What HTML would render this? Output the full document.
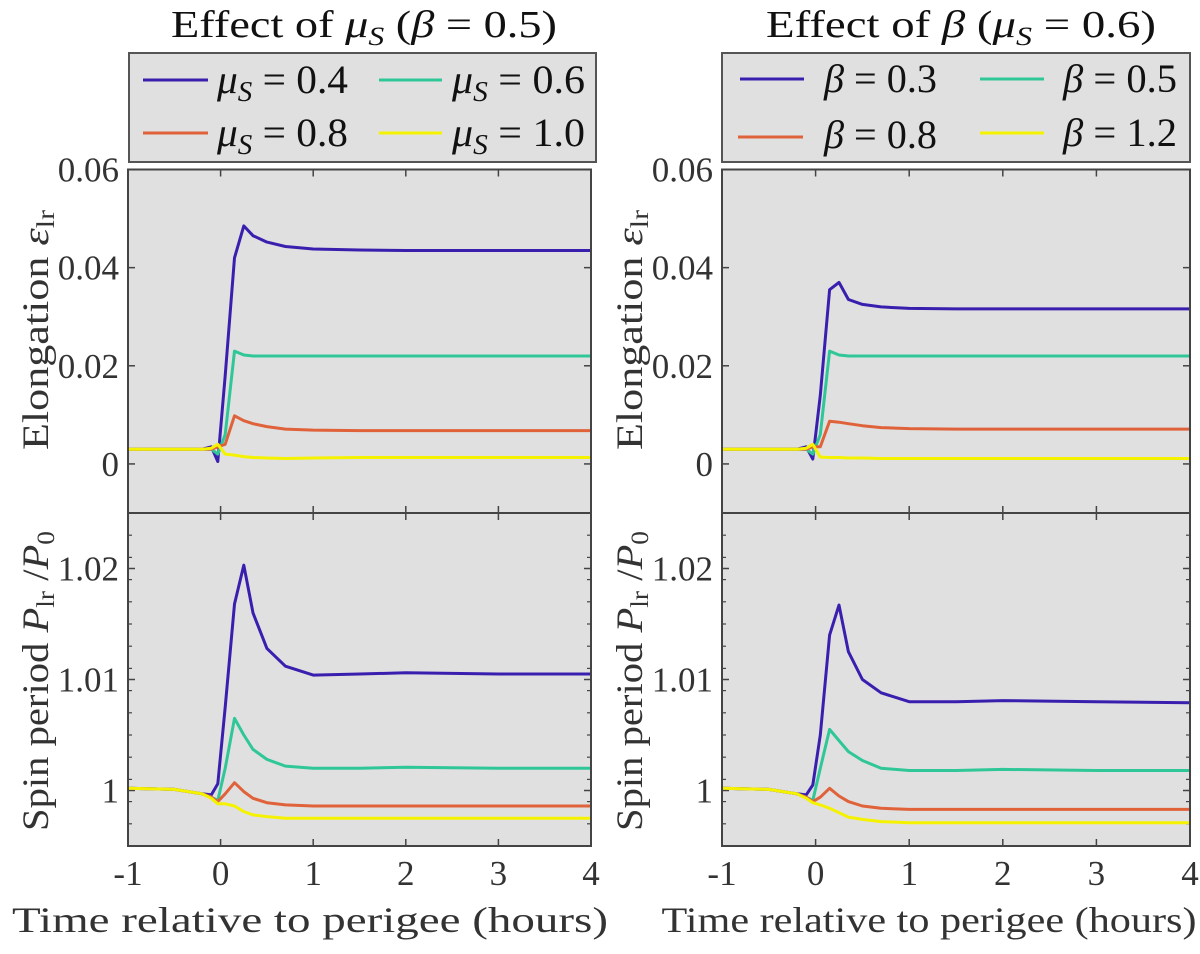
<!DOCTYPE html>
<html><head><meta charset="utf-8"><style>
html,body{margin:0;padding:0;background:#fff;}
svg{display:block;font-family:"Liberation Serif",serif;}
svg text{font-family:"Liberation Serif",serif;}
</style></head><body>
<svg id="fig" width="1200" height="954" viewBox="0 0 1200 954" xmlns="http://www.w3.org/2000/svg"></svg>
<script>
const times = [-1,-0.5,-0.2,-0.1,-0.03,0.05,0.15,0.25,0.35,0.5,0.7,1,1.5,2,3,4];
const xTicks = [-1,0,1,2,3,4];
const xTickLabels = ["-1","0","1","2","3","4"];
const epsTicks = [0,0.02,0.04,0.06];
const epsTickLabels = ["0","0.02","0.04","0.06"];
const perTicks = [1,1.01,1.02];
const perTickLabels = ["1","1.01","1.02"];
const colors = ["#3a1faf","#2fc797","#e0623a","#f5f200"];

const epsMu04 = [0.003,0.003,0.003,0.0035,0.0005,0.018,0.042,0.0485,0.0465,0.0452,0.0443,0.0438,0.0436,0.0435,0.0435,0.0435];
const epsMu06 = [0.003,0.003,0.003,0.003,0.002,0.006,0.023,0.0222,0.022,0.022,0.022,0.022,0.022,0.022,0.022,0.022];
const epsMu08 = [0.003,0.003,0.003,0.003,0.0035,0.004,0.0098,0.0088,0.0082,0.0076,0.0071,0.0069,0.0068,0.0068,0.0068,0.0068];
const epsMu10 = [0.003,0.003,0.003,0.0032,0.004,0.002,0.0018,0.0015,0.0013,0.0012,0.0011,0.0012,0.0013,0.0013,0.0013,0.0013];

const epsB03 = [0.003,0.003,0.003,0.0035,0.001,0.014,0.0355,0.037,0.0335,0.0325,0.032,0.0317,0.0316,0.0316,0.0316,0.0316];
const epsB05 = [0.003,0.003,0.003,0.003,0.002,0.006,0.023,0.0222,0.022,0.022,0.022,0.022,0.022,0.022,0.022,0.022];
const epsB08 = [0.003,0.003,0.003,0.003,0.0035,0.0035,0.0087,0.0085,0.0082,0.0078,0.0074,0.0072,0.0071,0.0071,0.0071,0.0071];
const epsB12 = [0.003,0.003,0.003,0.0032,0.004,0.0014,0.0013,0.0013,0.0012,0.0012,0.0011,0.0011,0.0011,0.0011,0.0011,0.0011];

const perMu04 = [1.0002,1.0001,0.9997,0.9996,1.0006,1.0075,1.0168,1.0203,1.016,1.0128,1.0112,1.0104,1.0105,1.0106,1.0105,1.0105];
const perMu06 = [1.0002,1.0001,0.9997,0.9994,0.9991,1.002,1.0065,1.005,1.0037,1.0028,1.0022,1.002,1.002,1.0021,1.002,1.002];
const perMu08 = [1.0002,1.0001,0.9997,0.9994,0.999,0.9997,1.0007,0.9999,0.9993,0.9989,0.9987,0.9986,0.9986,0.9986,0.9986,0.9986];
const perMu10 = [1.0002,1.0001,0.9997,0.9993,0.9988,0.9988,0.9986,0.9981,0.9978,0.99765,0.9975,0.9975,0.9975,0.9975,0.9975,0.9975];

const perB03 = [1.0002,1.0001,0.9997,0.9996,1.0005,1.005,1.014,1.0167,1.0125,1.01,1.0088,1.008,1.008,1.0081,1.008,1.0079];
const perB05 = [1.0002,1.0001,0.9997,0.9994,0.9991,1.002,1.0055,1.0045,1.0035,1.0027,1.002,1.0018,1.0018,1.0019,1.0018,1.0018];
const perB08 = [1.0002,1.0001,0.9997,0.9994,0.999,0.9994,1.0002,0.9995,0.999,0.9986,0.9984,0.9983,0.9983,0.9983,0.9983,0.9983];
const perB12 = [1.0002,1.0001,0.9997,0.9993,0.9989,0.9987,0.9984,0.998,0.9976,0.9974,0.9972,0.9971,0.9971,0.9971,0.9971,0.9971];

const NS="http://www.w3.org/2000/svg";
const svg=document.getElementById('fig');
function mk(tag,attrs,parent){const e=document.createElementNS(NS,tag);for(const k in attrs)e.setAttribute(k,attrs[k]);(parent||svg).appendChild(e);return e;}

function panel(name,x0,x1,y0,y1,ymin,ymax,yt,ytl,minorStep,series,labelX){
  const g=mk('g',{});
  
  
  const sx=t=>x0+(t-(-1))/(4-(-1))*(x1-x0);
  const sy=v=>y1-(v-ymin)/(ymax-ymin)*(y1-y0);
  const bg=mk('rect',{x:x0,y:y0,width:x1-x0,height:y1-y0,fill:"#e0e0e0"},g);
  
  
  xTicks.forEach(t=>{const x=sx(t);
    mk('line',{x1:x,x2:x,y1:y0,y2:y0+7,stroke:"#444","stroke-width":1.5},g);
    mk('line',{x1:x,x2:x,y1:y1,y2:y1-7,stroke:"#444","stroke-width":1.5},g);});
  if(minorStep){for(let v=ymin;v<=ymax+1e-9;v+=minorStep){const y=sy(v);
    mk('line',{x1:x0,x2:x0+4,y1:y,y2:y,stroke:"#444","stroke-width":1.2},g);
    mk('line',{x1:x1,x2:x1-4,y1:y,y2:y,stroke:"#444","stroke-width":1.2},g);}}
  yt.forEach((v,i)=>{const y=sy(v);
    mk('line',{x1:x0,x2:x0+7,y1:y,y2:y,stroke:"#444","stroke-width":1.5},g);
    mk('line',{x1:x1,x2:x1-7,y1:y,y2:y,stroke:"#444","stroke-width":1.5},g);
    const tx=mk('text',{x:x0-9,y:y+12,"text-anchor":"end","font-size":35,fill:"#333"},g);
    tx.textContent=ytl[i];
    
    });
  series.forEach((s,i)=>{
    const d=s.map((v,j)=>(j?'L':'M')+sx(times[j]).toFixed(1)+','+sy(v).toFixed(1)).join(' ');
    const p=mk('path',{d:d,fill:"none",stroke:colors[i],"stroke-width":3,"stroke-linejoin":"round"},g);
    
    });
  mk('rect',{x:x0,y:y0,width:x1-x0,height:y1-y0,fill:"none",stroke:"#444","stroke-width":2},g);
  if(labelX){xTicks.forEach((t,i)=>{const tx=mk('text',{x:sx(t),y:885,"text-anchor":"middle","font-size":35,fill:"#333"},g);
    tx.textContent=xTickLabels[i];
    
    });}
}
panel('elongation-panel-mu',128,591,169.5,513,-0.01,0.06,epsTicks,epsTickLabels,0,[epsMu04,epsMu06,epsMu08,epsMu10],false);
panel('period-panel-mu',128,591,513,846,0.995,1.025,perTicks,perTickLabels,0.002,[perMu04,perMu06,perMu08,perMu10],true);
panel('elongation-panel-beta',722,1190,169.5,513,-0.01,0.06,epsTicks,epsTickLabels,0,[epsB03,epsB05,epsB08,epsB12],false);
panel('period-panel-beta',722,1190,513,846,0.995,1.025,perTicks,perTickLabels,0.002,[perB03,perB05,perB08,perB12],true);
</script>
<script>
(function(){
const NS="http://www.w3.org/2000/svg";const svg=document.getElementById('fig');
const html=`
<text x="364" y="37" text-anchor="middle" font-size="38" fill="#111" textLength="386" lengthAdjust="spacingAndGlyphs">Effect of <tspan font-style="italic">μ</tspan><tspan font-style="italic" font-size="26" dy="8">S</tspan><tspan dy="-8"> (</tspan><tspan font-style="italic">β</tspan> = 0.5)</text>
<text x="961" y="37" text-anchor="middle" font-size="38" fill="#111" textLength="390" lengthAdjust="spacingAndGlyphs">Effect of <tspan font-style="italic">β</tspan> (<tspan font-style="italic">μ</tspan><tspan font-style="italic" font-size="26" dy="8">S</tspan><tspan dy="-8"> = 0.6)</tspan></text>
<g>
<rect x="129" y="53" width="467" height="109" fill="#e0e0e0" stroke="#555" stroke-width="2"/>
<line x1="143" x2="208" y1="80" y2="80" stroke="#3a1faf" stroke-width="3"/>
<text x="217" y="93" font-size="40" fill="#111" textLength="131" lengthAdjust="spacingAndGlyphs"><tspan font-style="italic">μ</tspan><tspan font-style="italic" font-size="28" dy="8">S</tspan><tspan dy="-8"> = 0.4</tspan></text>
<line x1="379" x2="442" y1="80" y2="80" stroke="#2fc797" stroke-width="3"/>
<text x="452" y="93" font-size="40" fill="#111" textLength="133" lengthAdjust="spacingAndGlyphs"><tspan font-style="italic">μ</tspan><tspan font-style="italic" font-size="28" dy="8">S</tspan><tspan dy="-8"> = 0.6</tspan></text>
<line x1="143" x2="208" y1="133" y2="133" stroke="#e0623a" stroke-width="3"/>
<text x="217" y="146" font-size="40" fill="#111" textLength="131" lengthAdjust="spacingAndGlyphs"><tspan font-style="italic">μ</tspan><tspan font-style="italic" font-size="28" dy="8">S</tspan><tspan dy="-8"> = 0.8</tspan></text>
<line x1="379" x2="442" y1="133" y2="133" stroke="#f5f200" stroke-width="3"/>
<text x="452" y="146" font-size="40" fill="#111" textLength="133" lengthAdjust="spacingAndGlyphs"><tspan font-style="italic">μ</tspan><tspan font-style="italic" font-size="28" dy="8">S</tspan><tspan dy="-8"> = 1.0</tspan></text>
</g>
<g>
<rect x="722" y="53" width="468" height="109" fill="#e0e0e0" stroke="#555" stroke-width="2"/>
<line x1="740" x2="804" y1="79" y2="79" stroke="#3a1faf" stroke-width="3"/>
<text x="824" y="92" font-size="40" fill="#111" textLength="113" lengthAdjust="spacingAndGlyphs"><tspan font-style="italic">β</tspan> = 0.3</text>
<line x1="980" x2="1044" y1="79" y2="79" stroke="#2fc797" stroke-width="3"/>
<text x="1063" y="92" font-size="40" fill="#111" textLength="114" lengthAdjust="spacingAndGlyphs"><tspan font-style="italic">β</tspan> = 0.5</text>
<line x1="738" x2="803" y1="137" y2="137" stroke="#e0623a" stroke-width="3"/>
<text x="824" y="148" font-size="40" fill="#111" textLength="113" lengthAdjust="spacingAndGlyphs"><tspan font-style="italic">β</tspan> = 0.8</text>
<line x1="980" x2="1044" y1="133" y2="133" stroke="#f5f200" stroke-width="3"/>
<text x="1063" y="146" font-size="40" fill="#111" textLength="114" lengthAdjust="spacingAndGlyphs"><tspan font-style="italic">β</tspan> = 1.2</text>
</g>
<text transform="translate(48,330) rotate(-90)" text-anchor="middle" font-size="37" fill="#333" textLength="240" lengthAdjust="spacingAndGlyphs">Elongation <tspan font-style="italic">ε</tspan><tspan font-size="25" dy="6">lr</tspan></text>
<text transform="translate(48,681) rotate(-90)" text-anchor="middle" font-size="37" fill="#333" textLength="300" lengthAdjust="spacingAndGlyphs">Spin period <tspan font-style="italic">P</tspan><tspan font-size="25" dy="6">lr</tspan><tspan dy="-6"> /</tspan><tspan font-style="italic">P</tspan><tspan font-size="25" dy="6">0</tspan></text>
<text transform="translate(642,330) rotate(-90)" text-anchor="middle" font-size="37" fill="#333" textLength="240" lengthAdjust="spacingAndGlyphs">Elongation <tspan font-style="italic">ε</tspan><tspan font-size="25" dy="6">lr</tspan></text>
<text transform="translate(642,681) rotate(-90)" text-anchor="middle" font-size="37" fill="#333" textLength="300" lengthAdjust="spacingAndGlyphs">Spin period <tspan font-style="italic">P</tspan><tspan font-size="25" dy="6">lr</tspan><tspan dy="-6"> /</tspan><tspan font-style="italic">P</tspan><tspan font-size="25" dy="6">0</tspan></text>
<text x="310" y="932" text-anchor="middle" font-size="36" fill="#333" textLength="596" lengthAdjust="spacingAndGlyphs">Time relative to perigee (hours)</text>
<text x="929" y="932" text-anchor="middle" font-size="36" fill="#333" textLength="535" lengthAdjust="spacingAndGlyphs">Time relative to perigee (hours)</text>`;
const g=document.createElementNS(NS,'g');g.innerHTML=html;svg.appendChild(g);
})();
</script>
</body></html>
